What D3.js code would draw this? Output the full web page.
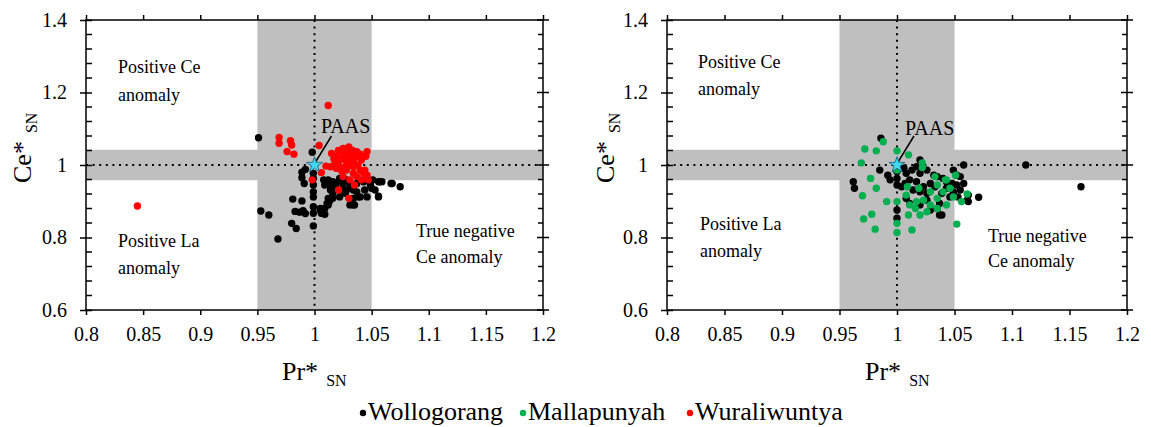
<!DOCTYPE html>
<html><head><meta charset="utf-8">
<script src="https://cdn.jsdelivr.net/npm/d3@7"></script>
<style>
body{margin:0;background:#fff}
svg{display:block}
text{font-family:"Liberation Serif","Times New Roman",serif;fill:#000}
</style>
</head><body>
<svg id="c" width="1151" height="427"></svg>
<script>
// ---------- data ----------
const xTickValues = [0.8, 0.85, 0.9, 0.95, 1, 1.05, 1.1, 1.15, 1.2];
const xTickLabels = ["0.8", "0.85", "0.9", "0.95", "1", "1.05", "1.1", "1.15", "1.2"];
const yTickValues = [0.6, 0.8, 1, 1.2, 1.4];
const yTickLabels = ["0.6", "0.8", "1", "1.2", "1.4"];
const paasPoint = [1, 1];
const seriesNames = ["Wollogorang", "Mallapunyah", "Wuraliwuntya"];
const seriesColors = ["#000000", "#00b050", "#ff0000"];

const leftWollogorang = [
 [0.951,1.075],[0.953,0.873],[0.960,0.862],[0.968,0.796],[0.980,0.839],[0.984,0.825],[0.981,0.906],[0.989,0.901],
 [0.983,0.872],[0.987,0.870],[0.990,0.874],[0.992,0.866],[0.989,0.980],[0.989,0.965],[0.991,0.949],[0.992,0.988],
 [0.999,0.977],[0.999,0.963],[0.999,0.945],[0.999,0.926],[0.999,0.912],[0.999,0.885],[0.999,0.867],[0.999,0.832],
 [0.998,1.035],[1.005,0.880],[1.007,0.871],[1.009,0.864],[1.012,0.890],[1.013,0.899],[1.016,0.908],
 [1.008,0.959],[1.012,0.959],[1.016,0.954],[1.022,0.963],[1.025,0.949],[1.031,0.945],[1.037,0.949],[1.043,0.954],
 [1.047,0.959],[1.051,0.959],[1.056,0.954],[1.059,0.954],[1.067,0.949],[1.075,0.940],[1.056,0.912],[1.046,0.912],
 [1.040,0.912],[1.034,0.931],[1.031,0.890],[1.035,0.890],[1.022,0.912],[1.016,0.922],[1.012,0.908],[1.011,0.894],
 [1.009,0.880],[1.006,0.867],[1.005,0.876],[1.014,0.931],[1.019,0.936],[1.028,0.931],[1.037,0.926],[1.044,0.931],
 [1.050,0.936],[1.024,0.931],[1.027,0.922],[1.034,0.908],[1.038,0.912],[1.049,0.945],[1.053,0.931],[1.014,0.945],
 [1.019,0.949],[1.009,0.945],[1.028,0.959],[1.057,0.954],[1.068,0.949],[1.056,0.914],[1.034,0.890]
];
const leftWuraliwuntya = [
 [1.012,1.164],[0.845,0.887],
 [0.969,1.076],[0.969,1.060],[0.979,1.067],[0.980,1.055],[0.976,1.037],[0.982,1.030],
 [1.004,1.054],[0.998,0.959],[1.010,0.997],[1.006,0.979],
 [1.015,1.032],[1.019,1.023],[1.025,1.046],[1.028,1.037],[1.022,1.014],[1.028,1.009],[1.032,1.018],[1.037,1.037],
 [1.038,1.023],[1.046,1.037],[1.022,0.995],[1.028,0.986],[1.034,0.995],[1.040,0.986],[1.037,0.968],[1.031,0.959],
 [1.046,0.972],[1.047,0.959],[1.035,0.945],[1.021,0.931],[1.030,0.908],[1.043,0.977],[1.031,1.028],[1.027,0.995],
 [1.024,0.982],[1.018,1.009],[1.014,0.995],[1.025,1.023],[1.030,1.050],[1.024,1.037],[1.034,1.009],[1.041,1.014],
 [1.031,1.000],[1.025,0.968],[1.041,0.959],[1.034,0.977],[1.038,1.000],[1.019,0.991],[1.027,1.018],[1.044,0.986],
 [1.021,1.040],[1.033,1.041],[1.036,1.028],[1.017,1.017],[1.029,1.027],[1.040,1.030],[1.045,1.024]
];
const rightWollogorang = [
 [0.986,1.074],[0.962,0.954],[0.963,0.936],[0.985,0.986],[0.992,0.972],[0.994,0.959],[1.000,0.982],[1.000,0.963],
 [1.000,0.945],[1.000,0.876],[1.000,0.853],[1.006,0.991],[1.008,0.977],[1.013,0.986],[1.017,0.995],[1.020,1.014],
 [1.020,0.977],[1.026,0.986],[1.032,0.972],[1.035,0.968],[1.040,0.963],[1.043,0.954],[1.048,0.949],[1.052,0.945],
 [1.058,0.949],[1.062,0.917],[1.071,0.911],[1.061,0.903],[1.053,0.912],[1.046,0.912],[1.037,0.894],[1.035,0.880],
 [1.029,0.876],[1.026,0.903],[1.037,0.862],[1.020,0.890],[1.011,0.894],[1.008,0.908],[1.004,0.940],[1.007,0.949],
 [1.011,0.959],[1.017,0.954],[1.023,0.940],[1.029,0.949],[1.020,0.926],[1.014,0.931],[1.026,0.922],[1.049,0.986],
 [1.055,0.968],[1.043,0.936],[1.049,0.926],[1.039,0.922],[1.033,0.940],[1.058,1.000],[1.112,1.000],[1.160,0.940],
 [1.052,0.972],[1.055,0.931],[1.062,0.899],[1.039,0.862]
];
const rightMallapunyah = [
 [0.988,1.064],[0.972,1.044],[0.982,1.039],[1.000,1.039],[1.010,1.028],[0.969,1.006],[1.000,0.986],[1.022,1.006],
 [1.022,0.993],[0.977,0.963],[0.982,0.936],[0.970,0.915],[0.991,0.899],[1.000,0.899],[0.978,0.864],[0.971,0.851],
 [0.981,0.823],[1.000,0.839],[1.000,0.814],[1.013,0.821],[1.010,0.862],[1.008,0.917],[1.009,0.940],[1.016,0.880],
 [1.019,0.936],[1.023,0.903],[1.029,0.926],[1.029,0.890],[1.035,0.945],[1.035,0.908],[1.033,0.968],[1.040,0.926],
 [1.042,0.959],[1.011,0.890],[1.017,0.899],[1.026,0.871],[1.035,0.880],[1.043,0.890],[1.020,0.862],[1.051,0.972],
 [1.043,0.959],[1.056,0.899],[1.052,0.837],[1.049,0.912],[1.046,0.936],[1.061,0.920]
];

// ---------- layout ----------
const svg = d3.select("#c");
const Y0 = 20, Y1 = 310;
const bandX = [0.95, 1.05], bandY = [0.958, 1.042];
const grey = "#bfbfbf";
const serif = '"Liberation Serif","Times New Roman",serif';

const panels = [
  { x0: 86, x1: 543,
    series: [{data: leftWollogorang, color: seriesColors[0]}, {data: leftWuraliwuntya, color: seriesColors[2]}],
    notes: [
      {x: 118, y: 73, t: "Positive Ce"}, {x: 118, y: 101, t: "anomaly"},
      {x: 118, y: 247, t: "Positive La"}, {x: 118, y: 274, t: "anomaly"},
      {x: 416, y: 237, t: "True negative"}, {x: 416, y: 263, t: "Ce anomaly"}],
    paas: {x: 321, y: 133}, ytitleX: 31, xtitleX: 282 },
  { x0: 667, x1: 1127,
    series: [{data: rightWollogorang, color: seriesColors[0]}, {data: rightMallapunyah, color: seriesColors[1]}],
    notes: [
      {x: 698, y: 68, t: "Positive Ce"}, {x: 698, y: 95, t: "anomaly"},
      {x: 700, y: 230, t: "Positive La"}, {x: 700, y: 257, t: "anomaly"},
      {x: 988, y: 242, t: "True negative"}, {x: 988, y: 267, t: "Ce anomaly"}],
    paas: {x: 905, y: 135}, ytitleX: 614, xtitleX: 865 }
];

const yMinor = d3.range(0.64, 1.4, 0.04).filter(v => Math.abs(v/0.2 - Math.round(v/0.2)) > 0.01);

panels.forEach(p => {
  const x = d3.scaleLinear().domain([0.8, 1.2]).range([p.x0, p.x1]);
  const y = d3.scaleLinear().domain([0.6, 1.4]).range([Y1, Y0]);
  const g = svg.append("g");

  // grey bands
  g.append("rect").attr("x", x(bandX[0])).attr("y", Y0).attr("width", x(bandX[1]) - x(bandX[0])).attr("height", Y1 - Y0).attr("fill", grey);
  g.append("rect").attr("x", p.x0).attr("y", y(bandY[1])).attr("width", p.x1 - p.x0).attr("height", y(bandY[0]) - y(bandY[1])).attr("fill", grey);

  // dotted reference lines
  g.append("line").attr("x1", x(1)).attr("x2", x(1)).attr("y1", Y0).attr("y2", Y1)
    .attr("stroke", "#000").attr("stroke-width", 2).attr("stroke-dasharray", "2 4.6");
  g.append("line").attr("x1", p.x0).attr("x2", p.x1).attr("y1", y(1)).attr("y2", y(1))
    .attr("stroke", "#000").attr("stroke-width", 2).attr("stroke-dasharray", "2 4.6");

  // points
  p.series.forEach(s => {
    g.append("g").selectAll("circle").data(s.data).join("circle")
      .attr("cx", d => x(d[0])).attr("cy", d => y(d[1])).attr("r", 3.7).attr("fill", s.color);
  });

  // PAAS star + leader
  g.append("line").attr("x1", x(paasPoint[0]) + 1).attr("y1", y(paasPoint[1]) - 3)
    .attr("x2", x(paasPoint[0]) + 17).attr("y2", y(paasPoint[1]) - 29).attr("stroke", "#000").attr("stroke-width", 1.5);
  g.append("path").attr("d", d3.symbol(d3.symbolStar, 80)())
    .attr("transform", `translate(${x(paasPoint[0])},${y(paasPoint[1])})`)
    .attr("fill", "#40d8f0").attr("stroke", "#1c5f7a").attr("stroke-width", 0.8);
  g.append("text").attr("x", p.paas.x).attr("y", p.paas.y).attr("font-size", 20).text("PAAS");

  // frame
  g.append("rect").attr("x", p.x0).attr("y", Y0).attr("width", p.x1 - p.x0).attr("height", Y1 - Y0)
    .attr("fill", "none").attr("stroke", "#000").attr("stroke-width", 1.5);

  // axes
  const bottom = d3.axisBottom(x).tickValues(xTickValues).tickFormat((d, i) => xTickLabels[i]).tickSize(5).tickPadding(12);
  const ga = g.append("g").attr("transform", `translate(0,${Y1})`).call(bottom);
  ga.attr("font-family", null).attr("font-size", 20);
  ga.select(".domain").remove();
  ga.selectAll("text").attr("font-size", 20);
  ga.selectAll("line").attr("stroke-width", 1.5);

  const top = d3.axisTop(x).tickValues(xTickValues).tickFormat("").tickSize(5);
  const gt = g.append("g").attr("transform", `translate(0,${Y0})`).call(top);
  gt.select(".domain").remove(); gt.selectAll("line").attr("stroke-width", 1.5);

  const left = d3.axisLeft(y).tickValues(yTickValues).tickFormat((d, i) => yTickLabels[i]).tickSize(6).tickPadding(13);
  const gl = g.append("g").attr("transform", `translate(${p.x0},0)`).call(left);
  gl.attr("font-family", null).attr("font-size", 20);
  gl.select(".domain").remove();
  gl.selectAll("text").attr("font-size", 20);
  gl.selectAll("line").attr("x2", -6).attr("x1", 6).attr("stroke-width", 1.5);
  g.append("g").selectAll("line").data(yMinor).join("line")
    .attr("x1", p.x0).attr("x2", p.x0 + 6).attr("y1", d => y(d)).attr("y2", d => y(d)).attr("stroke", "#000").attr("stroke-width", 1.5);

  const gr = g.append("g");
  gr.selectAll("line.maj").data(yTickValues).join("line").attr("class", "maj")
    .attr("x1", p.x1 - 6).attr("x2", p.x1 + 6).attr("y1", d => y(d)).attr("y2", d => y(d)).attr("stroke", "#000").attr("stroke-width", 1.5);
  gr.selectAll("line.min").data(yMinor).join("line").attr("class", "min")
    .attr("x1", p.x1 - 5).attr("x2", p.x1).attr("y1", d => y(d)).attr("y2", d => y(d)).attr("stroke", "#000").attr("stroke-width", 1.5);

  // annotations
  g.append("g").selectAll("text").data(p.notes).join("text")
    .attr("x", d => d.x).attr("y", d => d.y).attr("font-size", 18).text(d => d.t);

  // axis titles
  const xt = g.append("text").attr("x", p.xtitleX).attr("y", 380).attr("font-size", 26);
  xt.append("tspan").text("Pr*");
  xt.append("tspan").attr("dx", 8).attr("dy", 6).attr("font-size", 16).text("SN");

  const yt = g.append("text").attr("transform", `translate(${p.ytitleX},183) rotate(-90)`).attr("font-size", 26);
  yt.append("tspan").text("Ce*");
  yt.append("tspan").attr("dx", 8).attr("dy", 6).attr("font-size", 16).text("SN");
});

// legend
const legend = svg.append("g");
const legXs = [363, 523, 690];
seriesNames.forEach((name, i) => {
  legend.append("circle").attr("cx", legXs[i]).attr("cy", 413).attr("r", 3.2).attr("fill", seriesColors[i]);
  legend.append("text").attr("x", legXs[i] + 5).attr("y", 419.5).attr("font-size", 26).text(name);
});
</script>
</body></html>
